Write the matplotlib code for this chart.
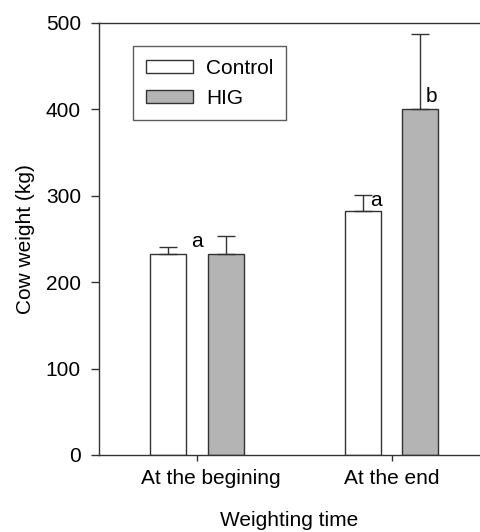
import matplotlib
matplotlib.use("Agg")
import matplotlib.pyplot as plt
import matplotlib.transforms as mtransforms
import numpy as np
from matplotlib.patches import Patch

plt.rcParams['font.family'] = ['Liberation Sans', 'DejaVu Sans']

categories = ["At the begining", "At the end"]
series_names = ["Control", "HIG"]
control_mean = [233, 282]
control_err = [8, 19]
hig_mean = [233, 401]
hig_err = [21, 86]
letters = [("a", 0.0, 247), ("a", 0.92, 295), ("b", 1.207, 415)]

FS = 15
fig = plt.figure(figsize=(4.8, 5.32), dpi=100)
ax = fig.add_axes([99/480, 77/532, 1 - 99/480, (455-23)/532])

x = np.arange(len(categories))
w = 0.185
off = 0.149
edge = "#333333"
ax.bar(x - off, control_mean, w, color="white", edgecolor=edge, linewidth=1.0, zorder=2)
ax.bar(x + off, hig_mean, w, color="#b4b4b4", edgecolor=edge, linewidth=1.0, zorder=2)
ax.errorbar(x - off, control_mean, yerr=[np.zeros(2), control_err], fmt="none",
            ecolor=edge, elinewidth=1.0, capsize=6.5, capthick=1.0, zorder=3)
ax.errorbar(x + off, hig_mean, yerr=[np.zeros(2), hig_err], fmt="none",
            ecolor=edge, elinewidth=1.0, capsize=6.5, capthick=1.0, zorder=3)

for t, xx, yy in letters:
    ax.text(xx, yy, t, ha="center", va="center", fontsize=FS)

ax.set_xlim(-0.504, 1.455)
ax.set_ylim(0, 500)
ax.set_yticks([0, 100, 200, 300, 400, 500])
ax.set_xticks(x)
ax.set_xticklabels(categories, fontsize=FS)
ax.tick_params(axis='y', labelsize=FS, direction='out', length=6, width=1.0, color=edge, pad=7)
ax.tick_params(axis='x', direction='out', length=4, width=1.0, color=edge, pad=6)
for s in ["left", "bottom", "top"]:
    ax.spines[s].set_color(edge)
    ax.spines[s].set_linewidth(1.0)
ax.spines["right"].set_visible(False)

# first category label sits slightly right of its tick in the reference
lab0 = ax.get_xticklabels()[0]
lab0.set_transform(lab0.get_transform() + mtransforms.ScaledTranslation(0.14, 0, fig.dpi_scale_trans))

ax.set_ylabel("Cow weight (kg)", fontsize=FS, labelpad=8)
ax.set_xlabel("Weighting time", fontsize=FS, labelpad=17)

handles = [Patch(facecolor="white", edgecolor=edge, linewidth=1.0),
           Patch(facecolor="#b4b4b4", edgecolor=edge, linewidth=1.0)]
leg = ax.legend(handles, series_names, loc="upper left",
                bbox_to_anchor=((133-99)/381, 1 - (46-23)/432),
                fontsize=FS, frameon=True, fancybox=False, edgecolor=edge,
                handlelength=2.3, handleheight=0.58, borderpad=0.6, labelspacing=0.55,
                handletextpad=0.6, borderaxespad=0)
leg.get_frame().set_linewidth(1.0)

fig.savefig("out.png", dpi=100)
